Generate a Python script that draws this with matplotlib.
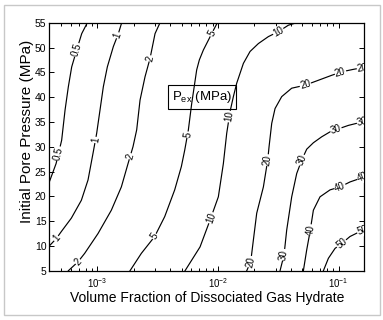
import numpy as np
import matplotlib
matplotlib.use('Agg')
from matplotlib import pyplot as plt
from matplotlib.patches import Rectangle
from matplotlib.ticker import LogLocator, NullFormatter

plt.rcParams['font.family'] = ['Liberation Sans', 'DejaVu Sans']
plt.rcParams['mathtext.fontset'] = 'custom'
plt.rcParams['mathtext.rm'] = 'Liberation Sans'
plt.rcParams['mathtext.it'] = 'Liberation Sans:italic'

# contour lines: volume fraction (x) vs initial pore pressure in MPa (y)
c05_x = [4.0e-4, 4.55e-4, 5.06e-4, 5.40e-4, 5.75e-4, 6.13e-4, 6.74e-4, 7.42e-4, 8.26e-4]
c05_y = [22.9, 26.6, 31.3, 37.4, 42.1, 46.1, 49.5, 52.8, 55.0]
c1_x = [4.0e-4, 4.574e-4, 5.03e-4, 6.088e-4, 7.37e-4, 8.37e-4, 9.21e-4, 9.87e-4, 1.052e-3,
        1.121e-3, 1.21e-3, 1.357e-3, 1.493e-3, 1.591e-3]
c1_y = [10.0, 11.5, 12.9, 15.6, 19.2, 23.3, 28.7, 32.7, 37.4, 42.1, 46.1, 50.2, 52.8, 55.0]
c2_x = [5.75e-4, 6.916e-4, 7.85e-4, 1.013e-3, 1.306e-3, 1.581e-3, 1.796e-3, 1.974e-3, 2.118e-3,
        2.258e-3, 2.483e-3, 2.732e-3, 3.006e-3, 3.306e-3]
c2_y = [5.0, 6.8, 8.5, 12.5, 17.2, 21.9, 26.6, 30.0, 33.4, 39.4, 44.1, 47.8, 52.8, 55.0]
c5_x = [1.865e-3, 2.315e-3, 2.986e-3, 3.614e-3, 4.374e-3, 4.967e-3, 5.295e-3, 5.677e-3, 6.05e-3,
        6.656e-3, 7.0e-3, 7.56e-3, 8.86e-3, 9.87e-3]
c5_y = [5.0, 8.5, 11.9, 15.9, 21.3, 26.0, 29.3, 33.4, 38.7, 45.5, 47.5, 49.5, 52.8, 55.0]
c10_x = [5.328e-3, 7.095e-3, 8.585e-3, 1.006e-2, 1.107e-2, 1.18e-2, 1.258e-2, 1.34e-2, 1.428e-2,
         1.622e-2, 1.842e-2, 2.16e-2, 2.613e-2, 3.162e-2, 3.828e-2, 4.487e-2]
c10_y = [5.0, 9.8, 15.2, 19.9, 26.6, 32.7, 37.1, 40.1, 42.8, 46.8, 49.2, 50.8, 52.2, 53.2, 54.5, 55.0]
c20_x = [1.729e-2, 1.865e-2, 1.963e-2, 2.092e-2, 2.376e-2, 2.58e-2, 2.647e-2, 2.785e-2, 2.968e-2,
         3.37e-2, 4.078e-2, 5.26e-2, 6.785e-2, 8.75e-2, 0.1059, 0.1323, 0.1632]
c20_y = [5.0, 6.8, 11.2, 16.6, 21.9, 27.3, 30.0, 34.7, 37.7, 40.1, 41.8, 42.4, 43.4, 44.4, 45.1,
         45.6, 46.0]
c30_x = [3.265e-2, 3.524e-2, 3.707e-2, 4.078e-2, 4.487e-2, 4.935e-2, 5.43e-2, 6.166e-2, 7.23e-2,
         8.75e-2, 9.94e-2, 0.1203, 0.1455, 0.1632]
c30_y = [5.0, 8.2, 13.2, 19.9, 24.6, 27.3, 29.5, 30.8, 32.0, 33.2, 33.6, 34.3, 34.8, 35.1]
c40_x = [5.095e-2, 5.43e-2, 5.787e-2, 6.166e-2, 7.0e-2, 8.476e-2, 0.1026, 0.1241, 0.1502, 0.1632]
c40_y = [5.0, 9.2, 12.9, 17.2, 19.9, 21.3, 21.9, 22.9, 23.6, 24.0]
c50_x = [7.465e-2, 8.21e-2, 9.325e-2, 0.1059, 0.1241, 0.1502, 0.1632]
c50_y = [5.0, 7.5, 9.5, 10.5, 11.9, 12.9, 13.2]

# where the inline labels sit
lab05 = [(4.9e-4, 28.5), (6.74e-4, 49.5)]
lab1 = [(4.574e-4, 11.5), (1.019e-3, 31.3), (1.465e-3, 52.5)]
lab2 = [(6.916e-4, 6.8), (1.925e-3, 28.0), (2.73e-3, 47.8)]
lab5 = [(2.986e-3, 11.9), (5.57e-3, 32.4), (8.86e-3, 52.8)]
lab10 = [(8.86e-3, 15.6), (1.258e-2, 36.0), (3.16e-2, 53.2)]
lab20 = [(1.865e-2, 6.8), (2.6e-2, 27.3), (5.3e-2, 42.4), (0.1026, 45.1), (0.158, 45.9)]
lab30 = [(3.52e-2, 8.2), (4.87e-2, 27.4), (9.5e-2, 33.4), (0.158, 35.0)]
lab40 = [(5.9e-2, 13.2), (0.1026, 21.9), (0.158, 23.9)]
lab50 = [(0.106, 10.4), (0.158, 13.1)]

contours = [('0.5', c05_x, c05_y, lab05), ('1', c1_x, c1_y, lab1), ('2', c2_x, c2_y, lab2),
            ('5', c5_x, c5_y, lab5), ('10', c10_x, c10_y, lab10), ('20', c20_x, c20_y, lab20),
            ('30', c30_x, c30_y, lab30), ('40', c40_x, c40_y, lab40), ('50', c50_x, c50_y, lab50)]

fig = plt.figure(figsize=(3.83, 3.2), dpi=100)
fig.patches.append(Rectangle((4 / 383, 5 / 320), 376 / 383, 310 / 320, transform=fig.transFigure,
                             fill=False, ec='#c8c8c8', lw=1.0))
ax = fig.add_axes([0.1288, 0.154, 0.8226, 0.775])
ax.set_xscale('log')
ax.set_xlim(4.0e-4, 0.1632)
ax.set_ylim(5, 55)


def label_line(ax, xs, ys, lx, ly, text):
    pts = ax.transData.transform(np.column_stack([xs, ys]))
    dense = []
    for a, b in zip(pts[:-1], pts[1:]):
        for t in np.linspace(0, 1, 30, endpoint=False):
            dense.append(a + (b - a) * t)
    dense.append(pts[-1])
    dense = np.array(dense)
    p = ax.transData.transform((lx, ly))
    i = np.argmin(np.hypot(*(dense - p).T))
    j0, j1 = max(i - 20, 0), min(i + 20, len(dense) - 1)
    dx, dy = dense[j1] - dense[j0]
    ang = np.degrees(np.arctan2(dy, dx))
    if ang > 90:
        ang -= 180
    if ang < -90:
        ang += 180
    px, py = ax.transData.inverted().transform(dense[i])
    ax.text(px, py, text, rotation=ang, rotation_mode='anchor', ha='center', va='center',
            fontsize=7, zorder=3, clip_on=True,
            bbox=dict(boxstyle='square,pad=0.05', fc='white', ec='none'))


for lev, xs, ys, labs in contours:
    ax.plot(xs, ys, color='black', lw=0.85, zorder=2, solid_joinstyle='round')
    for lx, ly in labs:
        label_line(ax, xs, ys, lx, ly, lev)

ax.text(7.3e-3, 40.1, r'$\mathregular{P_{ex}}$ (MPa)', ha='center', va='center', fontsize=9.5,
        zorder=4, bbox=dict(boxstyle='square,pad=0.3', fc='none', ec='black', lw=0.8))

ax.set_yticks(np.arange(5, 56, 5))
ax.set_xticks([1e-3, 1e-2, 1e-1])
ax.set_xticklabels([r'$\mathregular{10^{-3}}$', r'$\mathregular{10^{-2}}$', r'$\mathregular{10^{-1}}$'])
ax.xaxis.set_minor_locator(LogLocator(base=10, subs=np.arange(2, 10)))
ax.xaxis.set_minor_formatter(NullFormatter())
ax.tick_params(which='both', direction='in', top=True, right=True, width=0.7)
ax.tick_params(which='major', length=3.5, labelsize=7.5, pad=2)
ax.tick_params(which='minor', length=2)
ax.tick_params(axis='x', labelsize=7, pad=4)
for s in ax.spines.values():
    s.set_linewidth(0.9)

ax.set_xlabel('Volume Fraction of Dissociated Gas Hydrate', fontsize=10, labelpad=1)
ax.set_ylabel('Initial Pore Pressure (MPa)', fontsize=11)
ax.yaxis.set_label_coords(-0.05, 0.56)

fig.savefig('out.png', dpi=100)
